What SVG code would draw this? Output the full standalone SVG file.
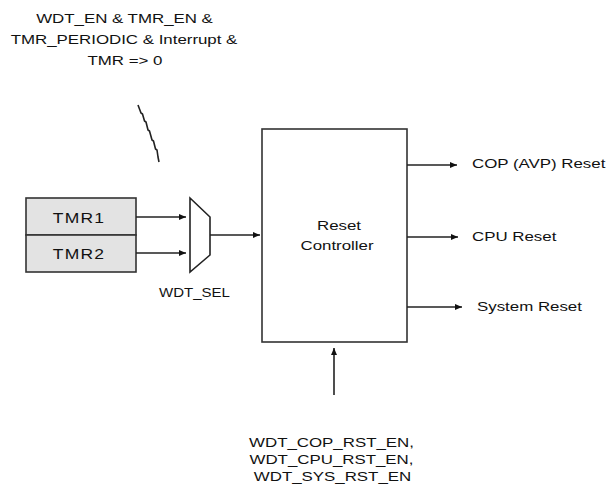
<svg xmlns="http://www.w3.org/2000/svg" width="609" height="492" viewBox="0 0 609 492">
<style>
text{font-family:"Liberation Sans",Arial,sans-serif;fill:#111;font-size:13.5px}
.c{text-anchor:middle}
.ln{stroke:#222;stroke-width:1.6;fill:none}
.box{stroke:#333;stroke-width:1.6}
</style>
<defs>
<marker id="ah" markerWidth="8" markerHeight="8" refX="7" refY="4" orient="auto" markerUnits="userSpaceOnUse">
<path d="M0,1 L7,4 L0,7 Z" fill="#111"/>
</marker>
</defs>
<rect width="609" height="492" fill="#fff"/>
<g id="cond-label">
<text class="c" transform="translate(124.5,23) scale(1.25,1)">WDT_EN &amp; TMR_EN &amp;</text>
<text class="c" transform="translate(124,44) scale(1.25,1)">TMR_PERIODIC &amp; Interrupt &amp;</text>
<text class="c" transform="translate(125,65) scale(1.25,1)">TMR =&gt; 0</text>
</g>
<g id="tmr1">
<rect class="box" x="26" y="198" width="110" height="37" fill="#e3e3e3"/>
<text class="c" transform="translate(79,222.5) scale(1.25,1)" style="letter-spacing:1px;font-size:14px">TMR1</text>
</g>
<g id="tmr2">
<rect class="box" x="26" y="235" width="110" height="37" fill="#e3e3e3"/>
<text class="c" transform="translate(79,258.5) scale(1.25,1)" style="letter-spacing:1px;font-size:14px">TMR2</text>
</g>
<g id="mux">
<path class="ln" d="M190,198 L210,217 L210,255 L190,272 Z" fill="#fff"/>
<text class="c" transform="translate(194.5,297) scale(1.25,1)" style="font-size:12px">WDT_SEL</text>
</g>
<g id="reset-controller">
<rect class="box" x="262" y="129" width="145" height="213" fill="#fff"/>
<text class="c" transform="translate(339,230) scale(1.25,1)">Reset</text>
<text class="c" transform="translate(337,250) scale(1.25,1)">Controller</text>
</g>
<g id="outputs">
<text transform="translate(472,168) scale(1.25,1)">COP (AVP) Reset</text>
<text transform="translate(472,241) scale(1.25,1)">CPU Reset</text>
<text transform="translate(477,311) scale(1.25,1)">System Reset</text>
</g>
<g id="enable-label">
<text class="c" transform="translate(331.5,447) scale(1.25,1)">WDT_COP_RST_EN,</text>
<text class="c" transform="translate(331.5,464) scale(1.25,1)">WDT_CPU_RST_EN,</text>
<text class="c" transform="translate(332.5,481) scale(1.25,1)">WDT_SYS_RST_EN</text>
</g>
<g id="connectors">
<line class="ln" x1="136" y1="217" x2="186" y2="217" marker-end="url(#ah)"/>
<line class="ln" x1="136" y1="253" x2="186" y2="253" marker-end="url(#ah)"/>
<line class="ln" x1="210" y1="235" x2="260" y2="235" marker-end="url(#ah)"/>
<line class="ln" x1="407" y1="165" x2="457" y2="165" marker-end="url(#ah)"/>
<line class="ln" x1="407" y1="237" x2="458" y2="237" marker-end="url(#ah)"/>
<line class="ln" x1="407" y1="307" x2="462" y2="307" marker-end="url(#ah)"/>
<line class="ln" x1="334" y1="395" x2="334" y2="348" marker-end="url(#ah)"/>
<path class="ln" stroke-width="2" stroke-linejoin="bevel" d="M138,105 l3,8 l1.5,1 l2,7 l1.5,1 l2,8 l1.5,1 l2.5,9 l1.5,1 l2,8 l1.5,1 l1,7 l1,5"/>
</g>
</svg>
